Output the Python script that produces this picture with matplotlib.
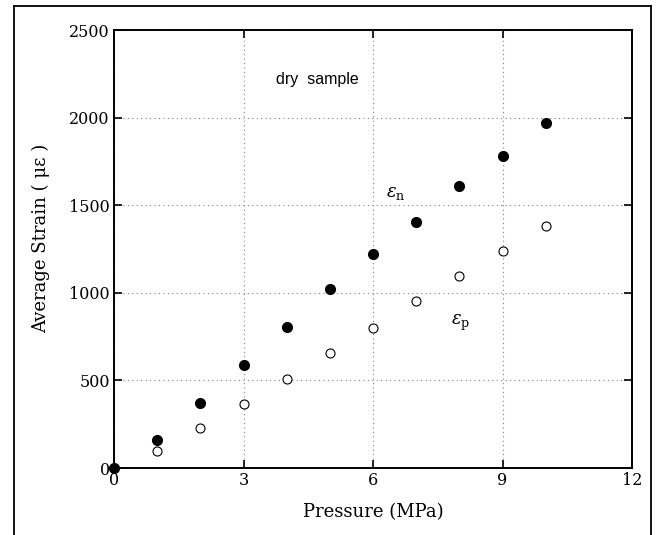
import matplotlib.pyplot as plt
from matplotlib.lines import Line2D

plt.rcParams['mathtext.fontset'] = 'dejavuserif'

# pressure (MPa) and strains (micro-strain)
pressure = [0, 1, 2, 3, 4, 5, 6, 7, 8, 9, 10]
eps_n = [0, 158, 373, 588, 803, 1022, 1221, 1406, 1611, 1783, 1971]
eps_p = [0, 97, 227, 364, 508, 658, 799, 951, 1098, 1239, 1380]

x_ticks = [0, 3, 6, 9, 12]
y_ticks = [0, 500, 1000, 1500, 2000, 2500]

serif = 'DejaVu Serif'
font = 11.5

fig = plt.figure(figsize=(6.58, 5.35), dpi=100)
ax = fig.add_axes([0.1733, 0.1252, 0.7872, 0.8187])

ax.grid(True, linestyle=(0, (1, 3)), linewidth=0.8, color='gray')
ax.set_axisbelow(True)

ax.plot(pressure[1:], eps_p[1:], 'o', markersize=6.5, markerfacecolor='white',
        markeredgecolor='black', markeredgewidth=0.8, clip_on=False)
ax.plot(pressure, eps_n, 'o', markersize=7, color='black', clip_on=False)

ax.set_xlim(0, 12)
ax.set_ylim(0, 2500)
ax.set_xticks(x_ticks)
ax.set_yticks(y_ticks)
ax.tick_params(direction='in', length=6, width=1.2, top=True, right=True,
               labelsize=font, pad=3)
for lab in ax.get_xticklabels() + ax.get_yticklabels():
    lab.set_family(serif)
for s in ax.spines.values():
    s.set_linewidth(1.4)

ax.set_xlabel('Pressure (MPa)', family=serif, fontsize=13, labelpad=10)
ax.set_ylabel('Average Strain ( \u03bc\u03b5 )', family=serif, fontsize=13)
ax.yaxis.set_label_coords(-0.124, 0.525)

ax.text(3.75, 2215, 'dry  sample', family='Liberation Sans', fontsize=11.5, va='center')
ax.text(6.3, 1570, r'$\varepsilon_{\rm n}$', fontsize=13, va='center')
ax.text(7.8, 830, r'$\varepsilon_{\rm p}$', fontsize=13, va='center')

# outer frame around the figure
fig.add_artist(Line2D([0.021, 0.021], [0.0, 0.989], color='black', linewidth=1.3))
fig.add_artist(Line2D([0.021, 0.989], [0.989, 0.989], color='black', linewidth=1.3))
fig.add_artist(Line2D([0.989, 0.989], [0.0, 0.989], color='black', linewidth=1.3))

fig.savefig('out.png', dpi=100)
